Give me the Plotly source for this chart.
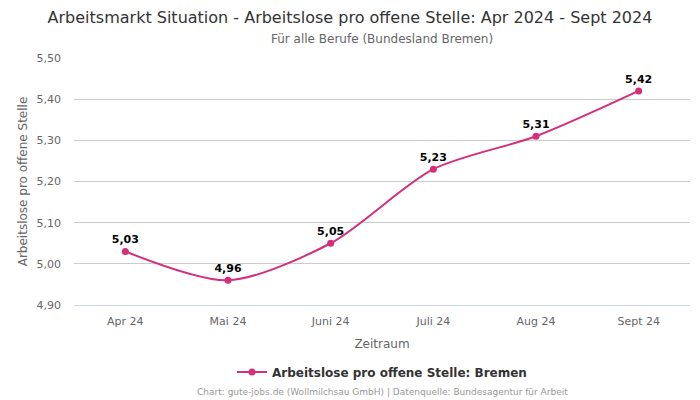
import plotly.graph_objects as go

months = ["Apr 24", "Mai 24", "Juni 24", "Juli 24", "Aug 24", "Sept 24"]
values = [5.03, 4.96, 5.05, 5.23, 5.31, 5.42]
labels = ["5,03", "4,96", "5,05", "5,23", "5,31", "5,42"]
yticks = [4.9, 5.0, 5.1, 5.2, 5.3, 5.4, 5.5]
yticktext = ["4,90", "5,00", "5,10", "5,20", "5,30", "5,40", "5,50"]

color = "#d42f7a"
font = "DejaVu Sans"

fig = go.Figure()
fig.add_trace(go.Scatter(
    x=months, y=values, mode="lines+markers+text",
    line=dict(color=color, width=2, shape="spline", smoothing=0.8),
    marker=dict(color=color, size=7),
    text=["<b>%s</b>" % t for t in labels], textposition="top center",
    textfont=dict(family=font, size=11, color="#000000"),
    name="<b>Arbeitslose pro offene Stelle: Bremen</b>",
))

fig.update_layout(
    width=700, height=400,
    margin=dict(l=74, r=10, t=58, b=95, autoexpand=False),
    paper_bgcolor="white", plot_bgcolor="white",
    font=dict(family=font, color="#666666"),
    title=dict(text="Arbeitsmarkt Situation - Arbeitslose pro offene Stelle: Apr 2024 - Sept 2024",
               x=0.5, xanchor="center", y=1 - 17 / 400, yanchor="middle",
               font=dict(family=font, size=16, color="#333333")),
    showlegend=True,
    legend=dict(orientation="h", x=0.5, xanchor="center", y=-67 / 247, yanchor="middle",
                font=dict(family=font, size=12, color="#333333")),
    xaxis=dict(range=[-0.5, 5.5], showgrid=False, showline=True, linecolor="#ccd6eb",
               ticks="", tickfont=dict(size=11, color="#666666"), automargin=False,
               ticklabelstandoff=6,
               title=dict(text="Zeitraum", font=dict(size=12, color="#666666"), standoff=12)),
    yaxis=dict(range=[4.9, 5.5], tickvals=yticks, ticktext=yticktext, showgrid=True,
               gridcolor="#cccccc", zeroline=False, ticks="", automargin=False,
               tickfont=dict(size=11, color="#666666"), ticklabelstandoff=12,
               title=dict(text="Arbeitslose pro offene Stelle", font=dict(size=12, color="#666666"), standoff=6)),
)
fig.add_annotation(text="Für alle Berufe (Bundesland Bremen)", xref="paper", yref="paper",
                   x=0.5, y=1.0, yshift=19, xanchor="center", yanchor="middle", showarrow=False,
                   font=dict(family=font, size=12, color="#666666"))
fig.add_annotation(text="Chart: gute-jobs.de (Wollmilchsau GmbH) | Datenquelle: Bundesagentur für Arbeit",
                   xref="paper", yref="paper", x=0.5, y=0, yshift=-87, xanchor="center", yanchor="middle",
                   showarrow=False, font=dict(family=font, size=9, color="#999999"))
fig.write_html("out.html", config={"displayModeBar": False},
               post_script="document.body.style.margin='0';document.body.style.padding='0';")
